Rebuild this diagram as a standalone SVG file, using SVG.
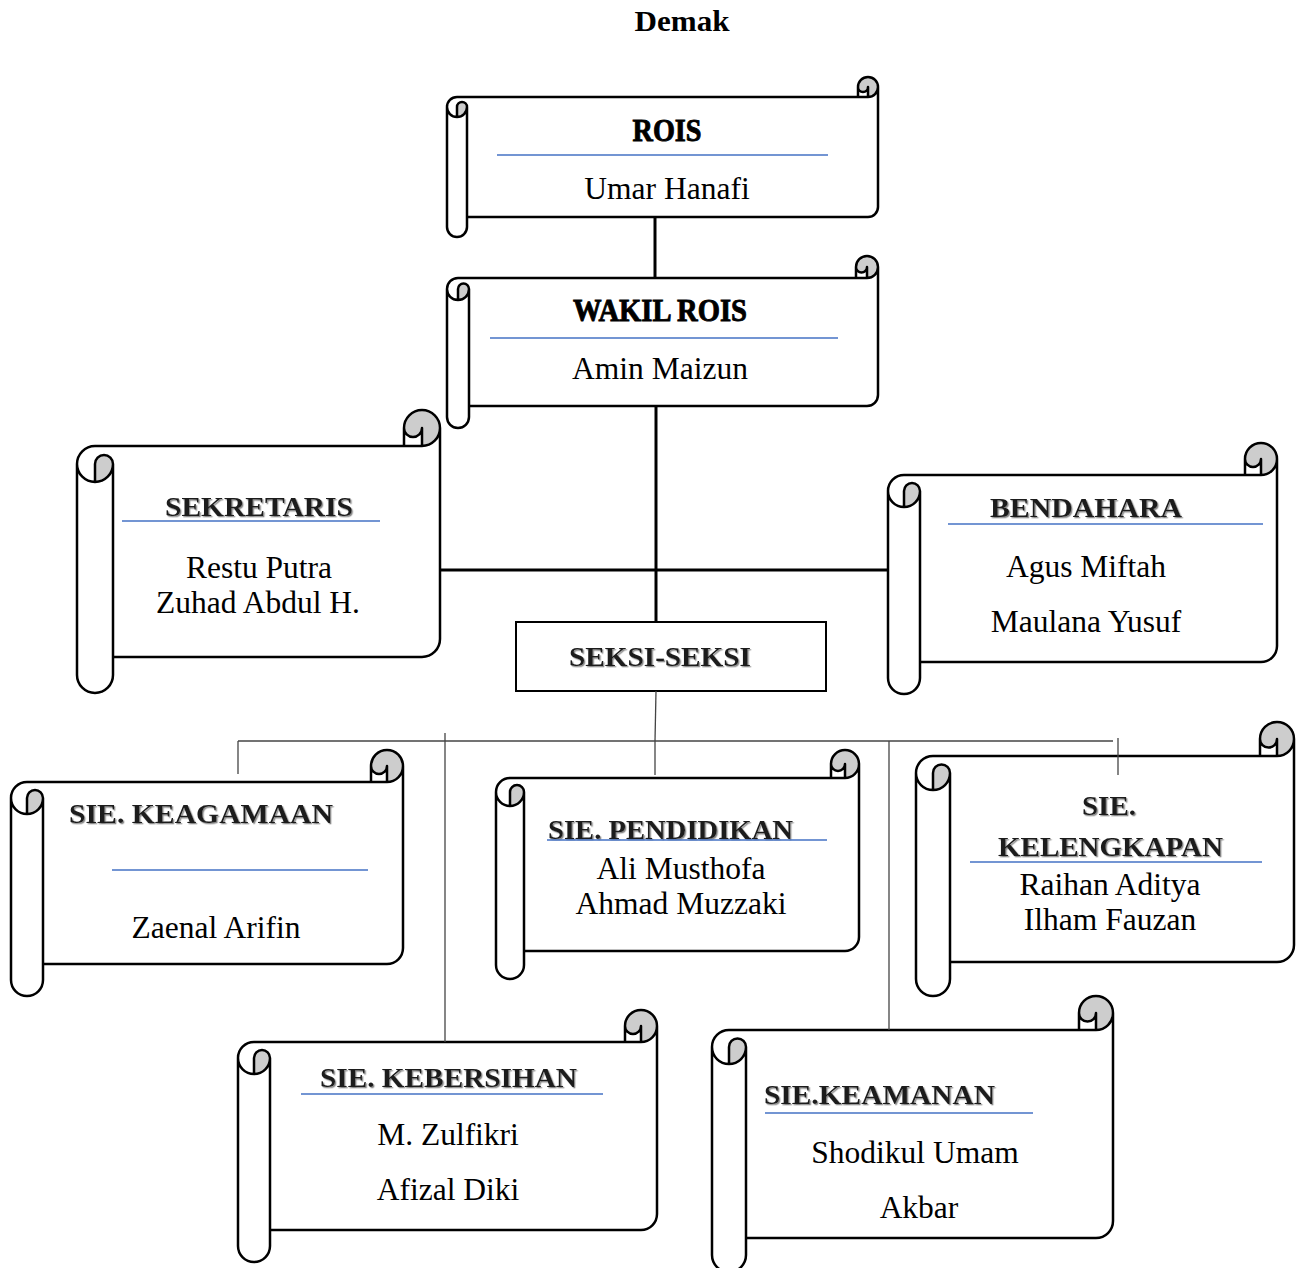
<svg xmlns="http://www.w3.org/2000/svg" width="1301" height="1268" viewBox="0 0 1301 1268">
<defs>
<style>
.bg{fill:#ffffff}
.sf{fill:#ffffff;stroke:none}
.sg{fill:#cdcdcd;stroke:none}
.ss{fill:none;stroke:#000;stroke-width:2.5;stroke-linejoin:round;stroke-linecap:round}
.nm{font-family:"Liberation Serif","Times New Roman",serif;font-size:31.5px;fill:#000;text-anchor:middle}
.h1{font-family:"Liberation Serif","Times New Roman",serif;font-weight:bold;font-size:31px;fill:#000;stroke:#000;stroke-width:0.9;text-anchor:middle}
.h2{font-family:"Liberation Serif","Times New Roman",serif;font-weight:bold;font-size:27px;fill:#1a1a1a;text-anchor:middle;filter:url(#shadow)}
.ttl{font-family:"Liberation Serif","Times New Roman",serif;font-weight:bold;font-size:30px;fill:#000;text-anchor:middle}
.bl{stroke:#4472C4;stroke-width:1.3;fill:none}
.thick{stroke:#000;stroke-width:3;fill:none}
.thin{stroke:#444;stroke-width:1.3;fill:none}
</style>
<filter id="shadow" x="-5%" y="-20%" width="110%" height="140%">
<feDropShadow dx="1.3" dy="1.3" stdDeviation="0.2" flood-color="#8a8a8a" flood-opacity="1"/>
</filter>
</defs>
<rect class="bg" x="0" y="0" width="1301" height="1268"/>
<text class="ttl" x="682" y="31" textLength="95" lengthAdjust="spacingAndGlyphs">Demak</text>

<g id="node-rois" transform="translate(447,77)">
<path class="sf" d="M 431,10 A 10 10 0 0 1 421,20 L 421,10 A 5 5 0 0 1 411,10 L 411,20 L 10,20 A 10 10 0 0 0 0,30 L 0,150 A 10 10 0 0 0 20,150 L 20,140 L 421,140 A 10 10 0 0 0 431,130 Z"/>
<path class="sg" d="M 10,40 A 10 10 0 0 0 20,30 A 5 5 0 0 0 10,30 Z M 421,20 A 10 10 0 1 0 411,10 A 5 5 0 0 0 421,10 Z"/>
<path class="ss" d="M 0,30 A 10 10 0 0 1 10,20 L 411,20 L 411,10 A 10 10 0 0 1 431,10 L 431,130 A 10 10 0 0 1 421,140 L 20,140 L 20,150 A 10 10 0 0 1 0,150 Z M 411,20 L 421,20 A 10 10 0 0 0 431,10 M 421,20 L 421,10 A 5 5 0 0 1 411,10 M 10,40 L 10,30 A 5 5 0 0 1 20,30 A 10 10 0 0 1 0,30 M 20,30 L 20,140"/>
</g>
<g id="node-rois-text">
<text class="h1" x="667" y="141" textLength="69" lengthAdjust="spacingAndGlyphs">ROIS</text>
<line class="bl" x1="497" y1="155" x2="828" y2="155"/>
<text class="nm" x="667" y="199">Umar Hanafi</text>
</g>

<g id="node-wakil" transform="translate(447,256)">
<path class="sf" d="M 431,11 A 11 11 0 0 1 420,22 L 420,11 A 5.5 5.5 0 0 1 409,11 L 409,22 L 11,22 A 11 11 0 0 0 0,33 L 0,161 A 11 11 0 0 0 22,161 L 22,150 L 420,150 A 11 11 0 0 0 431,139 Z"/>
<path class="sg" d="M 11,44 A 11 11 0 0 0 22,33 A 5.5 5.5 0 0 0 11,33 Z M 420,22 A 11 11 0 1 0 409,11 A 5.5 5.5 0 0 0 420,11 Z"/>
<path class="ss" d="M 0,33 A 11 11 0 0 1 11,22 L 409,22 L 409,11 A 11 11 0 0 1 431,11 L 431,139 A 11 11 0 0 1 420,150 L 22,150 L 22,161 A 11 11 0 0 1 0,161 Z M 409,22 L 420,22 A 11 11 0 0 0 431,11 M 420,22 L 420,11 A 5.5 5.5 0 0 1 409,11 M 11,44 L 11,33 A 5.5 5.5 0 0 1 22,33 A 11 11 0 0 1 0,33 M 22,33 L 22,150"/>
</g>
<g id="node-wakil-text">
<text class="h1" x="660" y="321" textLength="174" lengthAdjust="spacingAndGlyphs">WAKIL ROIS</text>
<line class="bl" x1="490" y1="338" x2="838" y2="338"/>
<text class="nm" x="660" y="379">Amin Maizun</text>
</g>

<g id="node-sekretaris" transform="translate(77,410)">
<path class="sf" d="M 363,18 A 18 18 0 0 1 345,36 L 345,18 A 9 9 0 0 1 327,18 L 327,36 L 18,36 A 18 18 0 0 0 0,54 L 0,265 A 18 18 0 0 0 36,265 L 36,247 L 345,247 A 18 18 0 0 0 363,229 Z"/>
<path class="sg" d="M 18,72 A 18 18 0 0 0 36,54 A 9 9 0 0 0 18,54 Z M 345,36 A 18 18 0 1 0 327,18 A 9 9 0 0 0 345,18 Z"/>
<path class="ss" d="M 0,54 A 18 18 0 0 1 18,36 L 327,36 L 327,18 A 18 18 0 0 1 363,18 L 363,229 A 18 18 0 0 1 345,247 L 36,247 L 36,265 A 18 18 0 0 1 0,265 Z M 327,36 L 345,36 A 18 18 0 0 0 363,18 M 345,36 L 345,18 A 9 9 0 0 1 327,18 M 18,72 L 18,54 A 9 9 0 0 1 36,54 A 18 18 0 0 1 0,54 M 36,54 L 36,247"/>
</g>
<g id="node-sekretaris-text">
<text class="h2" x="259" y="516" textLength="188" lengthAdjust="spacingAndGlyphs">SEKRETARIS</text>
<line class="bl" x1="122" y1="521" x2="380" y2="521"/>
<text class="nm" x="259" y="578">Restu Putra</text>
<text class="nm" x="258" y="613">Zuhad Abdul H.</text>
</g>

<g id="node-bendahara" transform="translate(888,443)">
<path class="sf" d="M 389,16 A 16 16 0 0 1 373,32 L 373,16 A 8 8 0 0 1 357,16 L 357,32 L 16,32 A 16 16 0 0 0 0,48 L 0,235 A 16 16 0 0 0 32,235 L 32,219 L 373,219 A 16 16 0 0 0 389,203 Z"/>
<path class="sg" d="M 16,64 A 16 16 0 0 0 32,48 A 8 8 0 0 0 16,48 Z M 373,32 A 16 16 0 1 0 357,16 A 8 8 0 0 0 373,16 Z"/>
<path class="ss" d="M 0,48 A 16 16 0 0 1 16,32 L 357,32 L 357,16 A 16 16 0 0 1 389,16 L 389,203 A 16 16 0 0 1 373,219 L 32,219 L 32,235 A 16 16 0 0 1 0,235 Z M 357,32 L 373,32 A 16 16 0 0 0 389,16 M 373,32 L 373,16 A 8 8 0 0 1 357,16 M 16,64 L 16,48 A 8 8 0 0 1 32,48 A 16 16 0 0 1 0,48 M 32,48 L 32,219"/>
</g>
<g id="node-bendahara-text">
<text class="h2" x="1086" y="517" textLength="192" lengthAdjust="spacingAndGlyphs">BENDAHARA</text>
<line class="bl" x1="948" y1="524" x2="1263" y2="524"/>
<text class="nm" x="1086" y="577">Agus Miftah</text>
<text class="nm" x="1086" y="632">Maulana Yusuf</text>
</g>

<g id="node-seksi">
<rect x="516" y="622" width="310" height="69" fill="#fff" stroke="#000" stroke-width="2"/>
<text class="h2" x="660" y="666" textLength="182" lengthAdjust="spacingAndGlyphs">SEKSI-SEKSI</text>
</g>

<g id="node-keagamaan" transform="translate(11,750)">
<path class="sf" d="M 392,16 A 16 16 0 0 1 376,32 L 376,16 A 8 8 0 0 1 360,16 L 360,32 L 16,32 A 16 16 0 0 0 0,48 L 0,230 A 16 16 0 0 0 32,230 L 32,214 L 376,214 A 16 16 0 0 0 392,198 Z"/>
<path class="sg" d="M 16,64 A 16 16 0 0 0 32,48 A 8 8 0 0 0 16,48 Z M 376,32 A 16 16 0 1 0 360,16 A 8 8 0 0 0 376,16 Z"/>
<path class="ss" d="M 0,48 A 16 16 0 0 1 16,32 L 360,32 L 360,16 A 16 16 0 0 1 392,16 L 392,198 A 16 16 0 0 1 376,214 L 32,214 L 32,230 A 16 16 0 0 1 0,230 Z M 360,32 L 376,32 A 16 16 0 0 0 392,16 M 376,32 L 376,16 A 8 8 0 0 1 360,16 M 16,64 L 16,48 A 8 8 0 0 1 32,48 A 16 16 0 0 1 0,48 M 32,48 L 32,214"/>
</g>
<g id="node-keagamaan-text">
<text class="h2" x="201" y="823" textLength="264" lengthAdjust="spacingAndGlyphs">SIE. KEAGAMAAN</text>
<line class="bl" x1="112" y1="870" x2="368" y2="870"/>
<text class="nm" x="216" y="938">Zaenal Arifin</text>
</g>

<g id="node-pendidikan" transform="translate(496,750)">
<path class="sf" d="M 363,14 A 14 14 0 0 1 349,28 L 349,14 A 7 7 0 0 1 335,14 L 335,28 L 14,28 A 14 14 0 0 0 0,42 L 0,215 A 14 14 0 0 0 28,215 L 28,201 L 349,201 A 14 14 0 0 0 363,187 Z"/>
<path class="sg" d="M 14,56 A 14 14 0 0 0 28,42 A 7 7 0 0 0 14,42 Z M 349,28 A 14 14 0 1 0 335,14 A 7 7 0 0 0 349,14 Z"/>
<path class="ss" d="M 0,42 A 14 14 0 0 1 14,28 L 335,28 L 335,14 A 14 14 0 0 1 363,14 L 363,187 A 14 14 0 0 1 349,201 L 28,201 L 28,215 A 14 14 0 0 1 0,215 Z M 335,28 L 349,28 A 14 14 0 0 0 363,14 M 349,28 L 349,14 A 7 7 0 0 1 335,14 M 14,56 L 14,42 A 7 7 0 0 1 28,42 A 14 14 0 0 1 0,42 M 28,42 L 28,201"/>
</g>
<g id="node-pendidikan-text">
<text class="h2" x="670.5" y="839" textLength="245" lengthAdjust="spacingAndGlyphs">SIE. PENDIDIKAN</text>
<line class="bl" x1="547" y1="840" x2="827" y2="840"/>
<text class="nm" x="681" y="879">Ali Musthofa</text>
<text class="nm" x="681" y="914">Ahmad Muzzaki</text>
</g>

<g id="node-kelengkapan" transform="translate(916,722)">
<path class="sf" d="M 378,17 A 17 17 0 0 1 361,34 L 361,17 A 8.5 8.5 0 0 1 344,17 L 344,34 L 17,34 A 17 17 0 0 0 0,51 L 0,257 A 17 17 0 0 0 34,257 L 34,240 L 361,240 A 17 17 0 0 0 378,223 Z"/>
<path class="sg" d="M 17,68 A 17 17 0 0 0 34,51 A 8.5 8.5 0 0 0 17,51 Z M 361,34 A 17 17 0 1 0 344,17 A 8.5 8.5 0 0 0 361,17 Z"/>
<path class="ss" d="M 0,51 A 17 17 0 0 1 17,34 L 344,34 L 344,17 A 17 17 0 0 1 378,17 L 378,223 A 17 17 0 0 1 361,240 L 34,240 L 34,257 A 17 17 0 0 1 0,257 Z M 344,34 L 361,34 A 17 17 0 0 0 378,17 M 361,34 L 361,17 A 8.5 8.5 0 0 1 344,17 M 17,68 L 17,51 A 8.5 8.5 0 0 1 34,51 A 17 17 0 0 1 0,51 M 34,51 L 34,240"/>
</g>
<g id="node-kelengkapan-text">
<text class="h2" x="1109" y="815" textLength="54" lengthAdjust="spacingAndGlyphs">SIE.</text>
<text class="h2" x="1110.5" y="856" textLength="225" lengthAdjust="spacingAndGlyphs">KELENGKAPAN</text>
<line class="bl" x1="970" y1="862" x2="1262" y2="862"/>
<text class="nm" x="1110" y="895">Raihan Aditya</text>
<text class="nm" x="1110" y="930">Ilham Fauzan</text>
</g>

<g id="node-kebersihan" transform="translate(238,1010)">
<path class="sf" d="M 419,16 A 16 16 0 0 1 403,32 L 403,16 A 8 8 0 0 1 387,16 L 387,32 L 16,32 A 16 16 0 0 0 0,48 L 0,236 A 16 16 0 0 0 32,236 L 32,220 L 403,220 A 16 16 0 0 0 419,204 Z"/>
<path class="sg" d="M 16,64 A 16 16 0 0 0 32,48 A 8 8 0 0 0 16,48 Z M 403,32 A 16 16 0 1 0 387,16 A 8 8 0 0 0 403,16 Z"/>
<path class="ss" d="M 0,48 A 16 16 0 0 1 16,32 L 387,32 L 387,16 A 16 16 0 0 1 419,16 L 419,204 A 16 16 0 0 1 403,220 L 32,220 L 32,236 A 16 16 0 0 1 0,236 Z M 387,32 L 403,32 A 16 16 0 0 0 419,16 M 403,32 L 403,16 A 8 8 0 0 1 387,16 M 16,64 L 16,48 A 8 8 0 0 1 32,48 A 16 16 0 0 1 0,48 M 32,48 L 32,220"/>
</g>
<g id="node-kebersihan-text">
<text class="h2" x="448.5" y="1087" textLength="257" lengthAdjust="spacingAndGlyphs">SIE. KEBERSIHAN</text>
<line class="bl" x1="301" y1="1094" x2="603" y2="1094"/>
<text class="nm" x="448" y="1145">M. Zulfikri</text>
<text class="nm" x="448" y="1200">Afizal Diki</text>
</g>

<g id="node-keamanan" transform="translate(712,996)">
<path class="sf" d="M 401,17 A 17 17 0 0 1 384,34 L 384,17 A 8.5 8.5 0 0 1 367,17 L 367,34 L 17,34 A 17 17 0 0 0 0,51 L 0,259 A 17 17 0 0 0 34,259 L 34,242 L 384,242 A 17 17 0 0 0 401,225 Z"/>
<path class="sg" d="M 17,68 A 17 17 0 0 0 34,51 A 8.5 8.5 0 0 0 17,51 Z M 384,34 A 17 17 0 1 0 367,17 A 8.5 8.5 0 0 0 384,17 Z"/>
<path class="ss" d="M 0,51 A 17 17 0 0 1 17,34 L 367,34 L 367,17 A 17 17 0 0 1 401,17 L 401,225 A 17 17 0 0 1 384,242 L 34,242 L 34,259 A 17 17 0 0 1 0,259 Z M 367,34 L 384,34 A 17 17 0 0 0 401,17 M 384,34 L 384,17 A 8.5 8.5 0 0 1 367,17 M 17,68 L 17,51 A 8.5 8.5 0 0 1 34,51 A 17 17 0 0 1 0,51 M 34,51 L 34,242"/>
</g>
<g id="node-keamanan-text">
<text class="h2" x="879.5" y="1104" textLength="231" lengthAdjust="spacingAndGlyphs">SIE.KEAMANAN</text>
<line class="bl" x1="765" y1="1113" x2="1033" y2="1113"/>
<text class="nm" x="915" y="1163">Shodikul Umam</text>
<text class="nm" x="919" y="1218">Akbar</text>
</g>

<g id="connectors">
<path class="thick" d="M 655,217 V 278"/>
<path class="thick" d="M 656,406 V 622"/>
<path class="thick" d="M 440,570 H 888"/>
<path class="thin" d="M 656,691 L 655,741"/>
<path class="thin" d="M 238,741 H 1113"/>
<path class="thin" d="M 238,741 V 774"/>
<path class="thin" d="M 445,733 V 1042"/>
<path class="thin" d="M 655,741 V 775"/>
<path class="thin" d="M 889,741 V 1030"/>
<path class="thin" d="M 1118,738 V 775"/>
</g>
</svg>
